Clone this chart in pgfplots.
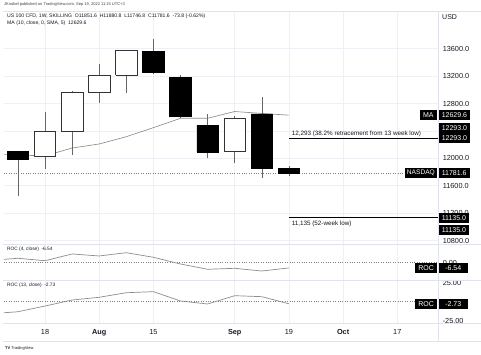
\documentclass[border=0pt]{standalone}
\usepackage{fontspec}
\setmainfont{Liberation Sans}
\usepackage{pgfplots}
\pgfplotsset{compat=1.18}
\definecolor{gridc}{HTML}{EEF0F5}
\definecolor{sepc}{HTML}{E0E3EB}
\definecolor{tvtext}{HTML}{131722}
\definecolor{linec}{HTML}{8C8C8C}

\tikzset{
  pbox/.style={fill=black, text=white, font=\fontsize{7}{8}\selectfont,
    inner xsep=3pt, inner ysep=0pt, minimum height=10pt},
}
\pgfplotsset{
  tvbase/.style={scale only axis, width=434.3pt, xmin=-1.513, xmax=14.513,
    clip mode=individual, axis line style={draw=none}, major tick length=0pt,
    xtick={0,2,4,7,9,11,13}, scaled y ticks=false, scaled x ticks=false,
    xmajorgrids, grid style={color=gridc, line width=0.5pt},
    yticklabel pos=right,
    yticklabel style={anchor=west, inner sep=0pt, xshift=4.3pt,
      font=\fontsize{7.3}{8}\selectfont, text=tvtext},
    /pgf/number format/assume math mode=true,
    /pgf/number format/fixed, /pgf/number format/fixed zerofill,
    /pgf/number format/1000 sep={}},
  bear/.style={draw=black, fill=black, line width=0.6pt},
  bull/.style={draw=black!80, fill=white, line width=0.6pt},
}

\begin{document}
\begin{tikzpicture}
\path[use as bounding box] (0,0) rectangle (481pt,355pt);

% ---------------- main price panel ----------------
\begin{axis}[tvbase, at={(4pt,110.5pt)}, anchor=south west, height=233.5pt,
  ymin=10741.5, ymax=14150.6, ymajorgrids,
  ytick={10800,11200,...,13600}, xticklabels={},
  /pgf/number format/precision=1]
% moving average
\addplot[linec, line width=0.65pt] coordinates {(-2,12060) (-1,12048) (0,12035) (1,12150)
  (2,12209) (3,12315) (4,12447) (5,12584) (6,12584) (7,12683) (8,12655) (9,12629.6)};
\addplot[gray, line width=0.5pt, dash pattern=on 0.8pt off 1.6pt]
  coordinates {(-1.513,11781.6) (14.513,11781.6)};
% wicks (low to high)
\addplot[black!60, line width=0.6pt, unbounded coords=jump] coordinates {
  (-1,11454) (-1,12105) (-1,nan)
  (0,11839) (0,12672) (0,nan)
  (1,12053) (1,12987) (1,nan)
  (2,12807) (2,13372) (2,nan)
  (3,12958) (3,13580) (3,nan)
  (4,13226) (4,13737) (4,nan)
  (5,12595) (5,13212) (5,nan)
  (6,12009) (6,12642) (6,nan)
  (7,11927) (7,12618) (7,nan)
  (8,11708) (8,12891) (8,nan)
  (9,11746.8) (9,11880.8)};
% bodies (open/close)
\addplot[bear] coordinates {(-1.395,11980) (-0.605,11980) (-0.605,12096) (-1.395,12096) (-1.395,11980)};
\addplot[bull] coordinates {(-0.395,12029) (0.395,12029) (0.395,12399) (-0.395,12399) (-0.395,12029)};
\addplot[bull] coordinates {(0.605,12399) (1.395,12399) (1.395,12964) (0.605,12964) (0.605,12399)};
\addplot[bull] coordinates {(1.605,12964) (2.395,12964) (2.395,13216) (1.605,13216) (1.605,12964)};
\addplot[bull] coordinates {(2.605,13216) (3.395,13216) (3.395,13571) (2.605,13571) (2.605,13216)};
\addplot[bear] coordinates {(3.605,13250) (4.395,13250) (4.395,13556) (3.605,13556) (3.605,13250)};
\addplot[bear] coordinates {(4.605,12607) (5.395,12607) (5.395,13177) (4.605,13177) (4.605,12607)};
\addplot[bear] coordinates {(5.605,12092) (6.395,12092) (6.395,12486) (5.605,12486) (5.605,12092)};
\addplot[bull] coordinates {(6.605,12096) (7.395,12096) (7.395,12584) (6.605,12584) (6.605,12096)};
\addplot[bear] coordinates {(7.605,11854) (8.395,11854) (8.395,12647) (7.605,12647) (7.605,11854)};
\addplot[bear] coordinates {(8.605,11781.6) (9.395,11781.6) (9.395,11851.6) (8.605,11851.6) (8.605,11781.6)};
% levels
\addplot[black, line width=1.3pt] coordinates {(9,12293) (14.513,12293)};
\addplot[black, line width=1.3pt] coordinates {(9,11135) (14.513,11135)};
\node[anchor=south west, inner sep=0pt, yshift=1.6pt, font=\fontsize{6.3}{7}\selectfont, text=tvtext]
  at (axis cs:9.1,12293) {12,293 (38.2\% retracement from 13 week low)};
\node[anchor=north west, inner sep=0pt, yshift=-3pt, font=\fontsize{6.3}{7}\selectfont, text=tvtext]
  at (axis cs:9.1,11135) {11,135 (52-week low)};
% right-hand price boxes
\node[pbox, anchor=west, xshift=0.3pt] at (axis cs:14.513,12629.6) {12629.6};
\node[pbox, anchor=east, xshift=-1.5pt] at (axis cs:14.513,12629.6) {MA};
\node[pbox, anchor=west, xshift=0.3pt, yshift=10.6pt] at (axis cs:14.513,12293) {12293.0};
\node[pbox, anchor=west, xshift=0.3pt] at (axis cs:14.513,12293) {12293.0};
\node[pbox, anchor=west, xshift=0.3pt] at (axis cs:14.513,11781.6) {11781.6};
\node[pbox, anchor=east, xshift=-1.5pt, inner xsep=1.8pt, font=\fontsize{6.6}{8}\selectfont] at (axis cs:14.513,11781.6) {NASDAQ};
\node[pbox, anchor=west, xshift=0.3pt, yshift=-0.8pt] at (axis cs:14.513,11135) {11135.0};
\node[pbox, anchor=west, xshift=0.3pt, yshift=-12.4pt] at (axis cs:14.513,11135) {11135.0};
\end{axis}

% ---------------- ROC (4) panel ----------------
\begin{axis}[tvbase, at={(4pt,74.3pt)}, anchor=south west, height=36.2pt,
  ymin=-22.5, ymax=22.75, ytick={0}, xticklabels={},
  /pgf/number format/precision=2]
\addplot[gray, line width=0.5pt, dash pattern=on 0.8pt off 1.6pt]
  coordinates {(-1.513,0) (14.513,0)};
\addplot[linec, line width=0.7pt] coordinates {(-2,3.0) (-1,5.5) (0,2.5) (1,10.9)
  (2,8.4) (3,12.5) (4,6.75) (5,-1.6) (6,-8.25) (7,-7.0) (8,-10.4) (9,-6.54)};
\node[pbox, anchor=west, xshift=0.5pt, minimum width=28.5pt] at (axis cs:14.513,-6.54) {-6.54};
\node[pbox, anchor=east, xshift=-1.3pt] at (axis cs:14.513,-6.54) {ROC};
\end{axis}

% ---------------- ROC (13) panel ----------------
\begin{axis}[tvbase, at={(4pt,31.7pt)}, anchor=south west, height=42.6pt,
  ymin=-28.4, ymax=27.6, ytick={-25,0,25},
  xticklabels={18,\textbf{Aug},15,\textbf{Sep},19,\textbf{Oct},17},
  xticklabel style={anchor=base, yshift=-11.6pt, font=\fontsize{7.3}{8}\selectfont, text=tvtext},
  /pgf/number format/precision=2]
\addplot[gray, line width=0.5pt, dash pattern=on 0.8pt off 1.6pt]
  coordinates {(-1.513,0) (14.513,0)};
\addplot[linec, line width=0.7pt] coordinates {(-2,-15.8) (-1,-13.2) (0,-5.7) (1,2.2)
  (2,5.8) (3,11.8) (4,13.2) (5,0.9) (6,-3.0) (7,7.9) (8,6.6) (9,-2.73)};
\node[pbox, anchor=west, xshift=0.5pt, minimum width=28.5pt] at (axis cs:14.513,-2.73) {-2.73};
\node[pbox, anchor=east, xshift=-1.3pt] at (axis cs:14.513,-2.73) {ROC};
\end{axis}

% ---------------- frame / separators ----------------
\foreach \yy in {344,110.5,74.3,31.7,13.3}
  \draw[sepc, line width=0.5pt] (3pt,\yy pt) -- (481pt,\yy pt);
\draw[sepc, line width=0.5pt] (438.3pt,13.3pt) -- (438.3pt,344pt);

% ---------------- texts ----------------
\node[anchor=west, inner sep=0pt, font=\fontsize{4}{5}\selectfont, text=black!75]
  at (4pt,350.3pt) {JKnobel published on TradingView.com, Sep 19, 2022 11:15 UTC+3};
\node[anchor=west, inner sep=0pt, font=\fontsize{5.1}{6}\selectfont, text=tvtext]
  at (7pt,339.3pt) {US 100 CFD, 1W, SKILLING\ \ O11851.6\ \ H11880.8\ \ L11746.8\ \ C11781.6\ \ -73.8 (-0.62\%)};
\node[anchor=west, inner sep=0pt, font=\fontsize{5.1}{6}\selectfont, text=tvtext]
  at (7pt,332.3pt) {MA (10, close, 0, SMA, 5)\ \ 12629.6};
\node[anchor=west, inner sep=0pt, font=\fontsize{7}{8}\selectfont, text=tvtext]
  at (442pt,338.3pt) {USD};
\node[anchor=west, inner sep=0pt, font=\fontsize{4.8}{5}\selectfont, text=tvtext]
  at (7pt,105.7pt) {ROC (4, close)\ \ -6.54};
\node[anchor=west, inner sep=0pt, font=\fontsize{4.8}{5}\selectfont, text=tvtext]
  at (7pt,70pt) {ROC (13, close)\ \ -2.73};
\node[anchor=west, inner sep=0pt, font=\fontsize{4}{5}\selectfont, text=tvtext]
  at (5pt,7pt) {\textbf{TV}\ TradingView};
\end{tikzpicture}
\end{document}
